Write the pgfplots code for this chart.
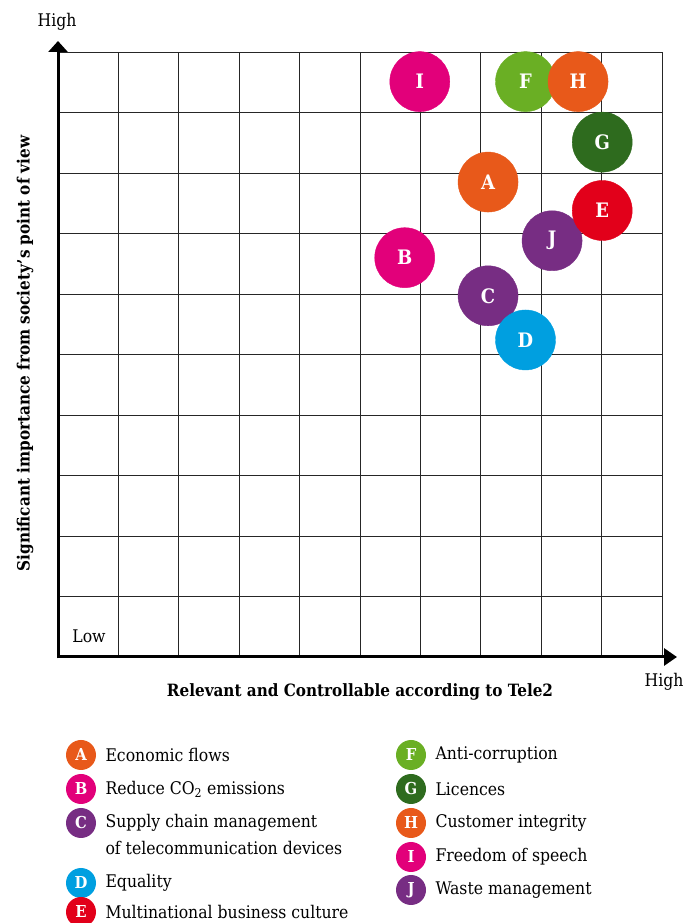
\documentclass[border=0pt]{standalone}
\usepackage{pgfplots}
\pgfplotsset{compat=1.18}
\usepackage{fontspec}
\setmainfont{DejaVu Serif Condensed}
\usetikzlibrary{arrows.meta}
\definecolor{cOrange}{HTML}{E8591A}
\definecolor{cMagenta}{HTML}{E2007A}
\definecolor{cPurple}{HTML}{772D83}
\definecolor{cBlue}{HTML}{009FE0}
\definecolor{cRed}{HTML}{E2001A}
\definecolor{cGreen}{HTML}{6AAF24}
\definecolor{cDark}{HTML}{2E6B1E}
\newcommand{\fs}[1]{\fontsize{#1}{#1}\selectfont}
\begin{document}
\begin{tikzpicture}[x=1bp,y=1bp]
\useasboundingbox (0,0) rectangle (683,923);
\begin{axis}[
  at={(58bp,266bp)}, anchor=south west,
  width=604bp, height=605bp, scale only axis,
  xmin=0, xmax=10, ymin=0, ymax=10,
  xtick={0,1,...,10}, ytick={0,1,...,10},
  xticklabel style={opacity=0}, yticklabel style={opacity=0},
  major tick length=0pt,
  grid=major, grid style={black!85, line width=0.8bp},
  axis line style={black!85, line width=0.8bp},
  clip=false,
  every node near coord/.append style={anchor=center, text=white, font=\bfseries\fs{20}},
  nodes near coords, point meta=explicit symbolic,
  bubble/.style={only marks, mark=*, mark size=30bp, color=#1, mark options={solid, draw=#1, fill=#1}},
]
\addplot[bubble=cMagenta] coordinates {(5.99,9.51) [I]};
\addplot[bubble=cGreen]   coordinates {(7.74,9.51) [F]};
\addplot[bubble=cOrange]  coordinates {(8.61,9.51) [H]};
\addplot[bubble=cDark]    coordinates {(9.01,8.51) [G]};
\addplot[bubble=cOrange]  coordinates {(7.12,7.85) [A]};
\addplot[bubble=cPurple]  coordinates {(8.18,6.88) [J]};
\addplot[bubble=cRed]     coordinates {(9.01,7.38) [E]};
\addplot[bubble=cMagenta] coordinates {(5.74,6.60) [B]};
\addplot[bubble=cPurple]  coordinates {(7.12,5.97) [C]};
\addplot[bubble=cBlue]    coordinates {(7.74,5.24) [D]};
\end{axis}
% axes with arrows
\draw[line width=3bp, -{Triangle[length=13bp,width=17bp]}] (58,266) -- (677,266);
\draw[line width=3bp, -{Triangle[length=11bp,width=19bp]}] (58,264.5) -- (58,882);
% axis texts
\node[font=\fs{17.5}] at (57,901) {High};
\node[font=\fs{17.5}] at (89,286.5) {Low};
\node[font=\fs{17.5}] at (664,241) {High};
\node[font=\bfseries\fs{17}] at (360,231) {Relevant and Controllable according to Tele2};
\node[font=\bfseries\fs{17}, rotate=90] at (25,569.5) {Significant importance from society’s point of view};
% legend
\tikzset{lg/.style={circle, inner sep=0pt, minimum size=30bp, text=white, font=\bfseries\fs{16.5}},
         lt/.style={anchor=west, font=\fs{17.5}}}
\node[lg, fill=cOrange]  at (81,168) {A}; \node[lt] at (102,168) {Economic flows};
\node[lg, fill=cMagenta] at (81,134) {B}; \node[lt] at (102,134) {Reduce CO\textsubscript{2} emissions};
\node[lg, fill=cPurple]  at (81,100) {C}; \node[lt] at (102,100) {Supply chain management};
\node[lt] at (102,75) {of telecommunication devices};
\node[lg, fill=cBlue]    at (81,40) {D}; \node[lt] at (102,40) {Equality};
\node[lg, fill=cRed]     at (81,11) {E}; \node[lt] at (102,11) {Multinational business culture};
\node[lg, fill=cGreen]   at (411,168) {F}; \node[lt] at (432,168) {Anti-corruption};
\node[lg, fill=cDark]    at (411,134) {G}; \node[lt] at (432,134) {Licences};
\node[lg, fill=cOrange]  at (411,100) {H}; \node[lt] at (432,100) {Customer integrity};
\node[lg, fill=cMagenta] at (411,66) {I}; \node[lt] at (432,66) {Freedom of speech};
\node[lg, fill=cPurple]  at (411,33) {J}; \node[lt] at (432,33) {Waste management};
\end{tikzpicture}
\end{document}
